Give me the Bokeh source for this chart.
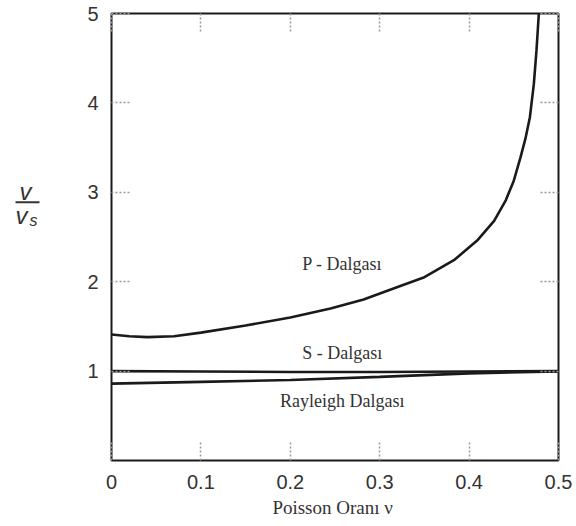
from bokeh.plotting import figure
from bokeh.layouts import row
from bokeh.models import Range1d, LinearAxis, Label, FixedTicker, NumeralTickFormatter
from bokeh.core.properties import value
from bokeh.embed import file_html
from bokeh.resources import INLINE

# ---- data ----
x_ticks = [0, 0.1, 0.2, 0.3, 0.4, 0.5]
y_ticks = [1, 2, 3, 4, 5]

nu_p = [0.0, 0.02, 0.04, 0.07, 0.1, 0.15, 0.2, 0.245, 0.282, 0.32, 0.35, 0.383, 0.409,
        0.428, 0.441, 0.45, 0.4575, 0.463, 0.468, 0.4724, 0.4754, 0.478]
p_vals = [1.41, 1.39, 1.38, 1.39, 1.43, 1.51, 1.60, 1.70, 1.80, 1.94, 2.05, 2.24, 2.46,
          2.68, 2.91, 3.13, 3.39, 3.60, 3.84, 4.21, 4.59, 5.0]

nu_s = [0.0, 0.1, 0.2, 0.3, 0.4, 0.5]
s_vals = [1.0, 0.995, 0.99, 0.99, 0.995, 1.0]

nu_r = [0.0, 0.1, 0.2, 0.3, 0.4, 0.5]
r_vals = [0.86, 0.88, 0.90, 0.935, 0.975, 0.995]

wave_names = ["P - Dalgası", "S - Dalgası", "Rayleigh Dalgası"]
x_title = "Poisson Oranı  ν"

INK = "#1a1a1a"
TXT = "#333333"
TICK = "#9a9a9a"

# ---- left strip holding the fraction-style y title (v / v_s) ----
LW = 60
q = figure(width=LW, height=526, output_backend="svg", toolbar_location=None,
           x_range=Range1d(0, LW), y_range=Range1d(526, 0),
           x_axis_location=None, y_axis_location=None,
           min_border_left=0, min_border_right=0, min_border_top=0, min_border_bottom=0)
q.outline_line_color = None
q.xgrid.visible = False
q.ygrid.visible = False
q.text(x=[25, 21], y=[209, 238], text=["v", "v"], text_font=value("Liberation Sans"),
       text_font_style="italic", text_font_size="24px", text_color=TXT,
       text_align="center", text_baseline="middle")
q.text(x=[33], y=[244], text=["s"], text_font=value("Liberation Sans"),
       text_font_style="italic", text_font_size="16px", text_color=TXT,
       text_align="center", text_baseline="middle")
q.segment(x0=[15], y0=[222], x1=[39], y1=[222], line_color=TXT, line_width=2)

# ---- main chart ----
p = figure(width=576 - LW, height=526, output_backend="svg", toolbar_location=None,
           x_range=Range1d(0, 0.5), y_range=Range1d(0, 5),
           min_border_left=111 - LW, min_border_right=18, min_border_top=13, min_border_bottom=66)
p.xgrid.visible = False
p.ygrid.visible = False
p.outline_line_color = INK
p.outline_line_width = 2


def style_axis(ax, ticks, show_labels, fmt, standoff):
    ax.ticker = FixedTicker(ticks=ticks)
    ax.formatter = NumeralTickFormatter(format=fmt)
    ax.major_tick_in = 20
    ax.major_tick_out = 0
    ax.major_tick_line_color = TICK
    ax.major_tick_line_width = 1.5
    ax.major_tick_line_dash = "2 2"
    ax.minor_tick_line_color = None
    ax.axis_line_color = None
    ax.major_label_standoff = standoff
    if show_labels:
        ax.major_label_text_font = "Liberation Sans"
        ax.major_label_text_font_size = "20px"
        ax.major_label_text_color = TXT
    else:
        ax.major_label_text_font_size = "0px"
        ax.major_label_text_color = None


style_axis(p.xaxis[0], x_ticks, True, "0.[0]", 14)
style_axis(p.yaxis[0], y_ticks, True, "0", 13)
p.xaxis[0].axis_label = x_title
p.xaxis[0].axis_label_text_font = "Liberation Serif"
p.xaxis[0].axis_label_text_font_style = "normal"
p.xaxis[0].axis_label_text_font_size = "19px"
p.xaxis[0].axis_label_text_color = TXT
p.xaxis[0].axis_label_standoff = 5

top = LinearAxis()
style_axis(top, x_ticks, False, "0.[0]", 0)
p.add_layout(top, "above")
right = LinearAxis()
style_axis(right, y_ticks, False, "0", 0)
p.add_layout(right, "right")

p.line(nu_p, p_vals, line_color=INK, line_width=2.6)
p.line(nu_s, s_vals, line_color=INK, line_width=2.6)
p.line(nu_r, r_vals, line_color=INK, line_width=2.6)

label_pos = [(0.258, 2.20), (0.258, 1.205), (0.258, 0.671)]
for name, (lx, ly) in zip(wave_names, label_pos):
    p.add_layout(Label(x=lx, y=ly, text=name, text_font="Liberation Serif",
                       text_font_size="18px", text_color=TXT,
                       text_align="center", text_baseline="middle"))

layout = row(q, p, spacing=0)
open("out.html", "w").write(file_html(layout, INLINE))
